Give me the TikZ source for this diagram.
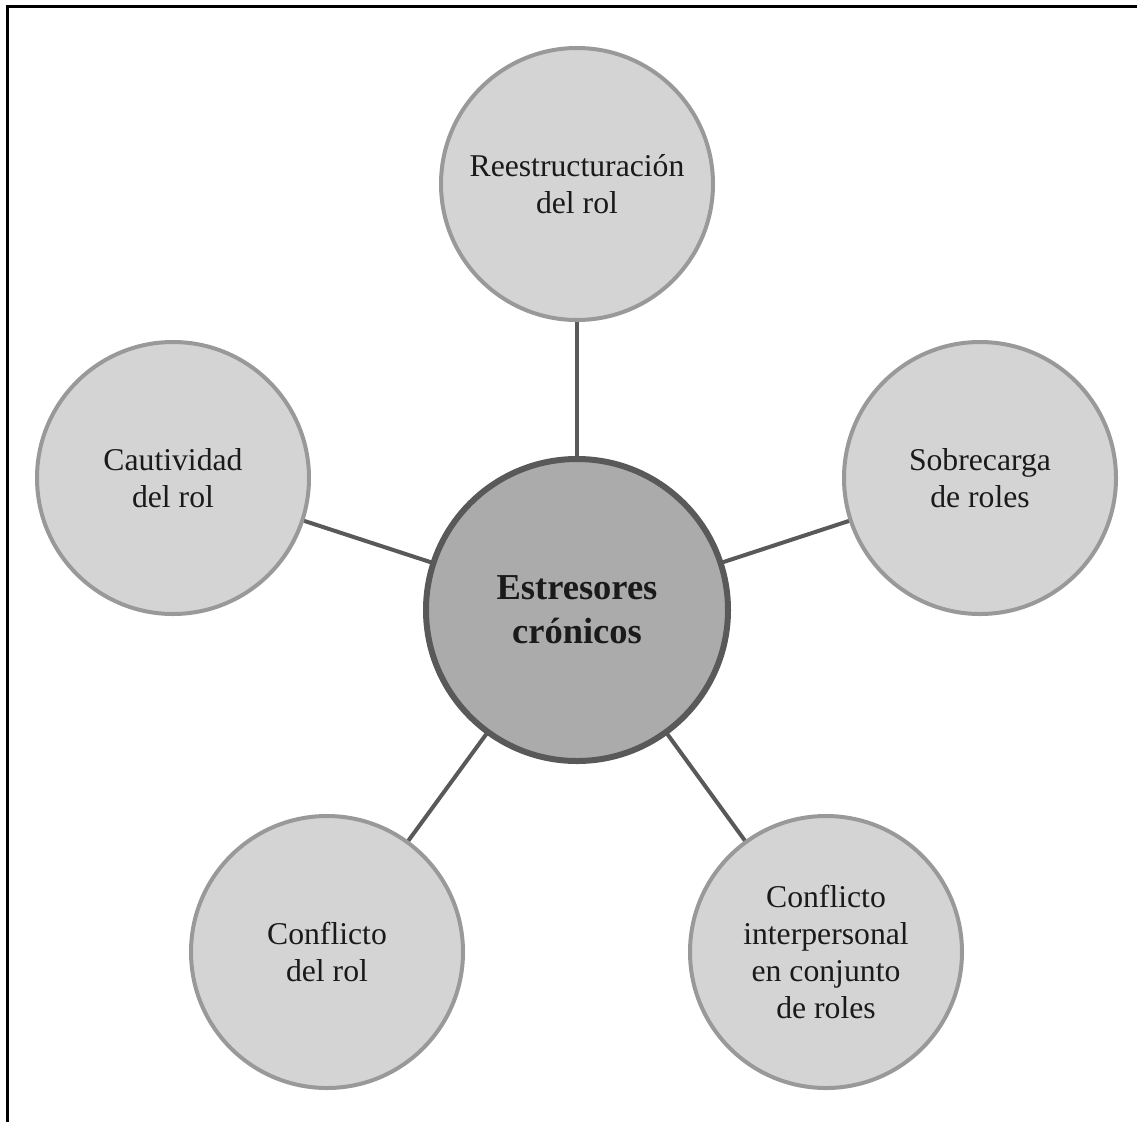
\documentclass[tikz,border=0pt]{standalone}
\usepackage{fontspec}
\setmainfont{Liberation Serif}
\usetikzlibrary{backgrounds}
\definecolor{satfill}{HTML}{D4D4D4}
\definecolor{satline}{HTML}{999999}
\definecolor{hubfill}{HTML}{ABABAB}
\definecolor{hubline}{HTML}{595959}
\definecolor{inktext}{HTML}{1A1A1A}
\begin{document}
\begin{tikzpicture}[x=1pt,y=-1pt,
  sat/.style={circle, draw=satline, line width=4pt, fill=satfill,
    minimum size=272pt, inner sep=0pt, outer sep=0pt, align=center,
    text=inktext, font=\fontsize{31.7}{36.7}\selectfont},
  hub/.style={circle, draw=hubline, line width=6pt, fill=hubfill,
    minimum size=302pt, inner sep=0pt, outer sep=0pt, align=center,
    text=inktext, font=\fontsize{36.5}{44}\selectfont\bfseries},
  spoke/.style={draw=hubline, line width=4pt},
  frameline/.style={draw=black, line width=3pt}]

\useasboundingbox (0,0) rectangle (1137,1122);

% open frame: top and left edges only
\draw[frameline] (1137,6) -- (7,6) -- (7,1122);

% central node and its five satellites
\node[hub] (hub) at (577,610) {Estresores\\crónicos};
\node[sat] (reest) at (577,184) {Reestructuración\\del rol};
\node[sat] (cauti) at (173,478) {Cautividad\\del rol};
\node[sat] (sobre) at (980,478) {Sobrecarga\\de roles};
\node[sat] (confr) at (327,952) {Conflicto\\del rol};
\node[sat] (confi) at (826,952) {Conflicto\\interpersonal\\en conjunto\\de roles};

% spokes behind the circles
\begin{pgfonlayer}{background}
  \foreach \s in {reest,cauti,sobre,confr,confi}
    \draw[spoke] (hub) -- (\s);
\end{pgfonlayer}
\end{tikzpicture}
\end{document}
